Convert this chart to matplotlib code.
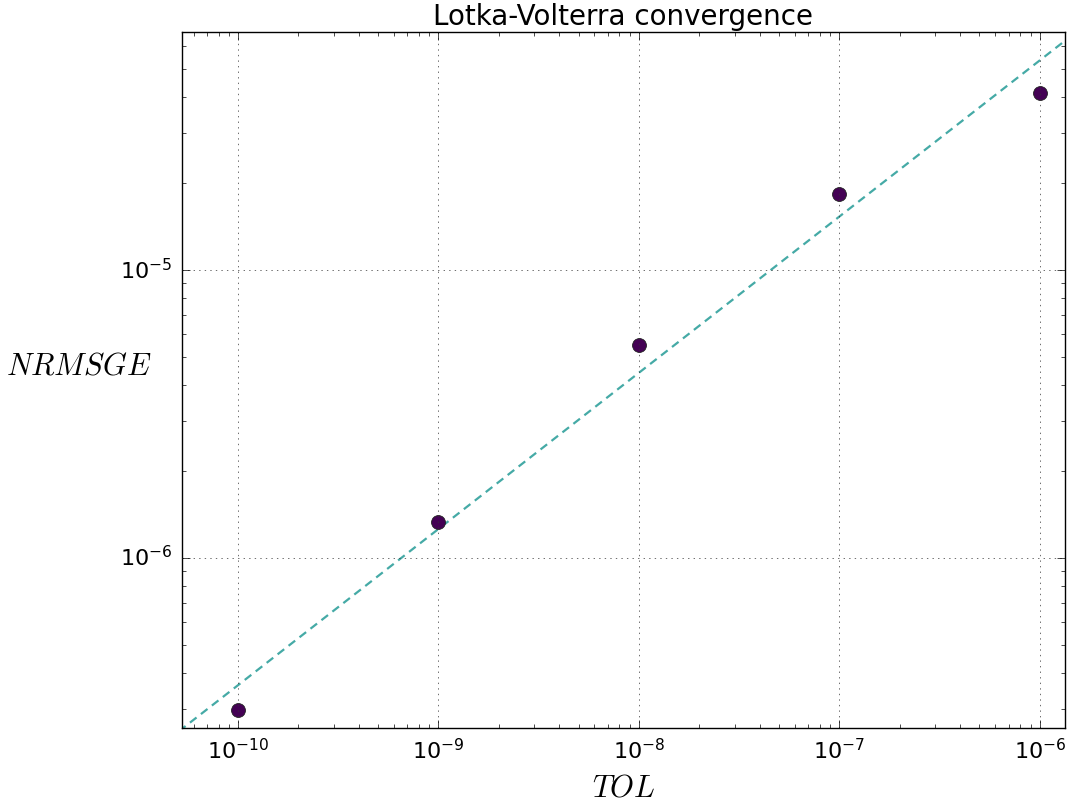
import numpy as np
import matplotlib
matplotlib.use("Agg")
import matplotlib.pyplot as plt

plt.style.use("classic")
plt.rcParams["mathtext.fontset"] = "cm"
plt.rcParams["axes.unicode_minus"] = False

tol = [1e-10, 1e-9, 1e-8, 1e-7, 1e-6]
nrmsge = [2.97e-7, 1.33e-6, 5.5e-6, 1.84e-5, 4.12e-5]
yticks = [1e-6, 1e-5]

fig = plt.figure(figsize=(10.71, 8.07), dpi=100, facecolor="white")
ax = fig.add_axes([0.170, 0.098, 0.824, 0.862])

lx = np.log10(tol)
ly = np.log10(nrmsge)
p = np.polyfit(lx, ly, 1)
xf = np.logspace(-11, -5, 50)
yf = 10 ** np.polyval(p, np.log10(xf))
ax.plot(xf, yf, "--", color="#45aaa6", lw=1.6, dashes=(6, 4))
ax.plot(tol, nrmsge, "o", color="#440154", markeredgecolor="#222222",
        markersize=10, markeredgewidth=0.6)

ax.set_xscale("log")
ax.set_yscale("log")
ax.set_xticks(tol)
ax.set_yticks(yticks)
ax.set_xlim(5.26e-11, 1.33e-6)
ax.set_ylim(2.57e-7, 6.7e-5)
ax.grid(True, which="major", linestyle=":", color="#333333")
ax.tick_params(labelsize=16, pad=7)
ax.tick_params(which="major", length=6)
ax.tick_params(which="minor", length=3)

ax.set_title("Lotka-Volterra convergence", fontsize=20, pad=5.5)
ax.set_xlabel("$TOL$", fontsize=22, labelpad=8)
ax.set_ylabel("$NRMSGE$", fontsize=22, rotation=0, ha="center", va="center")
ax.yaxis.set_label_coords(-0.117, 0.52)

fig.savefig("out.png", dpi=100, facecolor="white")
